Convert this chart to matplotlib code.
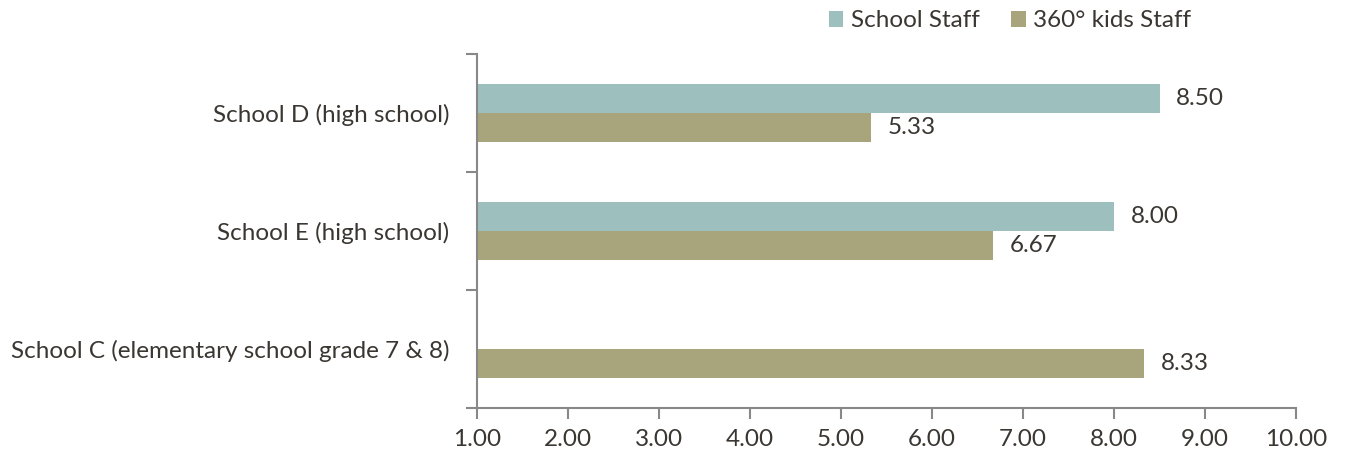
import numpy as np
import matplotlib.pyplot as plt

categories = ["School C (elementary school grade 7 & 8)", "School E (high school)", "School D (high school)"]
school_staff = [np.nan, 8.00, 8.50]
kids_staff = [8.33, 6.67, 5.33]
x_ticks = [1, 2, 3, 4, 5, 6, 7, 8, 9, 10]

teal = "#9dbfbd"
tan = "#a8a47c"
txt = "#3a3632"
grey = "#888888"
fs = 17.5

plt.rcParams['font.family'] = ['Lato', 'DejaVu Sans']

fig = plt.figure(figsize=(13.45, 4.57), dpi=100)
ax = fig.add_axes([0.3547, 0.1072, 0.6089, 0.7746])

y = np.arange(len(categories))
h = 0.246
base = 1.0
b1 = ax.barh(y + h / 2, np.array(school_staff) - base, left=base, height=h, color=teal, label="School Staff")
b2 = ax.barh(y - h / 2, np.array(kids_staff) - base, left=base, height=h, color=tan, label="360° kids Staff")

for bars, vals in ((b1, school_staff), (b2, kids_staff)):
    for rect, v in zip(bars, vals):
        if np.isnan(v):
            continue
        ax.annotate(f"{v:.2f}", (v, rect.get_y() + rect.get_height() / 2),
                    xytext=(12, 0), textcoords="offset points", va="center", ha="left",
                    fontsize=fs, color=txt)

ax.set_xlim(1, 10)
ax.set_ylim(-0.5, 2.5)
ax.set_xticks(x_ticks)
ax.set_xticklabels([f"{t:.2f}" for t in x_ticks], fontsize=fs, color=txt)
ax.set_yticks(y)
ax.set_yticklabels(categories, fontsize=fs, color=txt)
ax.set_yticks(np.arange(-0.5, 3.0, 1.0), minor=True)
ax.tick_params(axis="y", which="major", length=0, pad=20)
ax.tick_params(axis="y", which="minor", length=8, width=1.5, color=grey)
ax.tick_params(axis="x", which="major", length=8, width=1.5, color=grey, pad=7)

for s in ("top", "right"):
    ax.spines[s].set_visible(False)
for s in ("left", "bottom"):
    ax.spines[s].set_color(grey)
    ax.spines[s].set_linewidth(1.5)

leg = fig.legend(handles=[b1, b2], loc="upper left", bbox_to_anchor=(0.6, 1.025), ncol=2,
                 frameon=False, fontsize=fs, handlelength=0.6, handleheight=0.6,
                 handletextpad=0.3, columnspacing=1.3)
for t in leg.get_texts():
    t.set_color(txt)

fig.savefig("out.png", dpi=100)
